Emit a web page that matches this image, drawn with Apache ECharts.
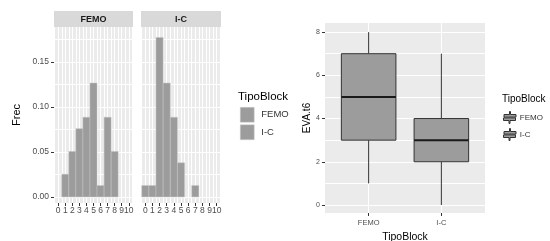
<!DOCTYPE html>
<html>
<head>
<meta charset="utf-8">
<script src="https://cdn.jsdelivr.net/npm/echarts@6/dist/echarts.min.js"></script>
<style>
  html, body { margin: 0; padding: 0; background: #fff; }
  #chart { width: 550px; height: 241px; }
</style>
</head>
<body>
<div id="chart"></div>
<script>
// histogram: relative frequency of EVA per block type
const bins = [0, 1, 2, 3, 4, 5, 6, 7, 8, 9, 10]
const femoFrec = [0, 0.0253, 0.0506, 0.0759, 0.0886, 0.1266, 0.0127, 0.0886, 0.0506, 0, 0]
const icFrec = [0.0127, 0.0127, 0.1772, 0.1266, 0.0886, 0.038, 0, 0.0127, 0, 0, 0]
const frecTicks = [0, 0.05, 0.1, 0.15]
const frecLines = [0, 0.025, 0.05, 0.075, 0.1, 0.125, 0.15, 0.175]
const binLines = [-0.5, 0, 0.5, 1, 1.5, 2, 2.5, 3, 3.5, 4, 4.5, 5, 5.5, 6, 6.5, 7, 7.5, 8, 8.5, 9, 9.5, 10, 10.5]

// boxplot: EVA.t6 by block type (min, q1, median, q3, max)
const groups = ['FEMO', 'I-C']
const groupPos = [1, 2]
const femoBox = [1, 3, 5, 7, 8]
const icBox = [0, 2, 3, 4, 7]
const evaTicks = [0, 2, 4, 6, 8]
const evaLines = [0, 1, 2, 3, 4, 5, 6, 7, 8]

const FONT = 'Liberation Sans'
const FILL = '#9c9c9c'
const DARK = '#333333'
const LABEL = '#4d4d4d'

function linesAxis (grid, min, max, lines, pos) {
  return {
    type: 'value', gridIndex: grid, min, max, position: pos,
    axisLine: { show: false, onZero: false },
    axisTick: { show: false, customValues: lines },
    axisLabel: { show: false },
    splitLine: { show: true, lineStyle: { color: '#ffffff', width: 1 } }
  }
}

function labelAxis (grid, min, max, ticks, pos, label, extra) {
  return Object.assign({
    type: 'value', gridIndex: grid, min, max, position: pos,
    axisLine: { show: false, onZero: false },
    axisTick: { show: true, customValues: ticks, length: 3, lineStyle: { color: DARK, width: 1 } },
    axisLabel: Object.assign({ customValues: ticks, fontSize: 7, color: LABEL, fontFamily: FONT, margin: 4 }, label),
    splitLine: { show: false }
  }, extra || {})
}

function barItem (params, api) {
  const x = api.value(0)
  const y = api.value(1)
  const p0 = api.coord([x - 0.5, y])
  const p1 = api.coord([x + 0.5, 0])
  return {
    type: 'rect',
    shape: { x: p0[0], y: p0[1], width: p1[0] - p0[0], height: p1[1] - p0[1] },
    style: { fill: FILL, stroke: '#c4c4c4', lineWidth: 0.5 }
  }
}

function boxItem (params, api) {
  const x = api.value(0)
  const lo = api.value(1)
  const q1 = api.value(2)
  const med = api.value(3)
  const q3 = api.value(4)
  const hi = api.value(5)
  const a = api.coord([x - 0.375, q3])
  const b = api.coord([x + 0.375, q1])
  const m = api.coord([x, med])
  const top = api.coord([x, hi])
  const bot = api.coord([x, lo])
  const line = { stroke: DARK, lineWidth: 1 }
  return {
    type: 'group',
    children: [
      { type: 'line', shape: { x1: top[0], y1: top[1], x2: top[0], y2: a[1] }, style: line },
      { type: 'line', shape: { x1: bot[0], y1: b[1], x2: bot[0], y2: bot[1] }, style: line },
      { type: 'rect', shape: { x: a[0], y: a[1], width: b[0] - a[0], height: b[1] - a[1] }, style: { fill: FILL, stroke: DARK, lineWidth: 1 } },
      { type: 'line', shape: { x1: a[0], y1: m[1], x2: b[0], y2: m[1] }, style: { stroke: '#1a1a1a', lineWidth: 2 } }
    ]
  }
}

const histData = f => bins.map((b, i) => [b, f[i]]).filter(d => d[1] > 0)

const yMin = -0.0067
const yMax = 0.1889
const xMin = -0.6
const xMax = 10.6
const eMin = -0.37
const eMax = 8.42

const panel = { show: true, backgroundColor: '#ebebeb', borderWidth: 0, outerBoundsMode: 'none', containLabel: false }

const chart = echarts.init(document.getElementById('chart'), null, { renderer: 'canvas' })

const option = {
  animation: false,
  textStyle: { fontFamily: FONT },
  grid: [
    Object.assign({ left: 54, top: 27, width: 79, height: 176 }, panel),
    Object.assign({ left: 141, top: 27, width: 80, height: 176 }, panel),
    Object.assign({ left: 325, top: 23, width: 160, height: 190 }, panel)
  ],
  xAxis: [
    linesAxis(0, xMin, xMax, binLines, 'bottom'),
    labelAxis(0, xMin, xMax, bins, 'bottom', { fontSize: 8.5, margin: 3 }),
    linesAxis(1, xMin, xMax, binLines, 'bottom'),
    labelAxis(1, xMin, xMax, bins, 'bottom', { fontSize: 8.5, margin: 3 }),
    linesAxis(2, 0.4, 2.6, groupPos, 'bottom'),
    labelAxis(2, 0.4, 2.6, groupPos, 'bottom', { fontSize: 7.5, margin: 6, formatter: v => groups[v - 1] }, {
      name: 'TipoBlock', nameLocation: 'middle', nameGap: 17,
      nameTextStyle: { fontSize: 10.5, color: '#000', fontFamily: FONT }
    })
  ],
  yAxis: [
    linesAxis(0, yMin, yMax, frecLines, 'left'),
    labelAxis(0, yMin, yMax, frecTicks, 'left', { fontSize: 8.5, margin: 5, formatter: v => v.toFixed(2) }, {
      name: 'Frec', nameLocation: 'middle', nameGap: 32,
      nameTextStyle: { fontSize: 11, color: '#000', fontFamily: FONT }
    }),
    linesAxis(1, yMin, yMax, frecLines, 'left'),
    linesAxis(2, eMin, eMax, evaLines, 'left'),
    labelAxis(2, eMin, eMax, evaTicks, 'left', { fontSize: 7, margin: 5 }, {
      name: 'EVA.t6', nameLocation: 'middle', nameGap: 12,
      nameTextStyle: { fontSize: 10, color: '#000', fontFamily: FONT }
    })
  ],
  title: [
    { text: 'TipoBlock', left: 238, top: 91, padding: 0, textStyle: { fontSize: 11.5, fontWeight: 'normal', color: '#000', fontFamily: FONT } },
    { text: 'TipoBlock', left: 502, top: 94, padding: 0, textStyle: { fontSize: 10, fontWeight: 'normal', color: '#000', fontFamily: FONT } }
  ],
  legend: [
    {
      left: 240, top: 107, orient: 'vertical', padding: 0,
      itemWidth: 14, itemHeight: 15, itemGap: 2,
      data: groups.map(g => ({ name: g, icon: 'rect' })),
      itemStyle: { color: FILL, borderColor: '#d0d0d0', borderWidth: 0.5 },
      textStyle: { fontSize: 9.5, color: '#333', fontFamily: FONT, padding: [0, 0, 0, 2] },
      selectedMode: false
    },
    {
      left: 503, top: 111, orient: 'vertical', padding: 0,
      itemWidth: 14, itemHeight: 12, itemGap: 4,
      data: groups.map(g => ({ name: g, icon: 'path://M6.5,0h1v3h5.5v2.6h-12v-2.6h5.5z M0.5,6.4h12v2.6h-5.5v3h-1v-3h-5.5z' })),
      itemStyle: { color: FILL, borderColor: DARK, borderWidth: 1 },
      textStyle: { fontSize: 8, color: '#333', fontFamily: FONT, padding: [0, 0, 0, -2] },
      selectedMode: false
    }
  ],
  graphic: [
    { type: 'rect', shape: { x: 54, y: 11, width: 79, height: 16 }, style: { fill: '#d9d9d9' }, silent: true },
    { type: 'rect', shape: { x: 141, y: 11, width: 80, height: 16 }, style: { fill: '#d9d9d9' }, silent: true },
    { type: 'text', x: 93.5, y: 19.5, style: { text: groups[0], fill: '#1a1a1a', font: 'bold 9px "Liberation Sans"', align: 'center', verticalAlign: 'middle' }, silent: true },
    { type: 'text', x: 181, y: 19.5, style: { text: groups[1], fill: '#1a1a1a', font: 'bold 9px "Liberation Sans"', align: 'center', verticalAlign: 'middle' }, silent: true }
  ],
  series: [
    { type: 'custom', name: groups[0], xAxisIndex: 1, yAxisIndex: 1, renderItem: barItem, data: histData(femoFrec), itemStyle: { color: FILL }, encode: { x: 0, y: 1 } },
    { type: 'custom', name: groups[1], xAxisIndex: 3, yAxisIndex: 2, renderItem: barItem, data: histData(icFrec), itemStyle: { color: FILL }, encode: { x: 0, y: 1 } },
    { type: 'custom', name: groups[0], xAxisIndex: 5, yAxisIndex: 4, renderItem: boxItem, data: [[groupPos[0]].concat(femoBox)], itemStyle: { color: FILL }, encode: { x: 0, y: [1, 2, 3, 4, 5] } },
    { type: 'custom', name: groups[1], xAxisIndex: 5, yAxisIndex: 4, renderItem: boxItem, data: [[groupPos[1]].concat(icBox)], itemStyle: { color: FILL }, encode: { x: 0, y: [1, 2, 3, 4, 5] } }
  ]
}

chart.setOption(option)
</script>
</body>
</html>
